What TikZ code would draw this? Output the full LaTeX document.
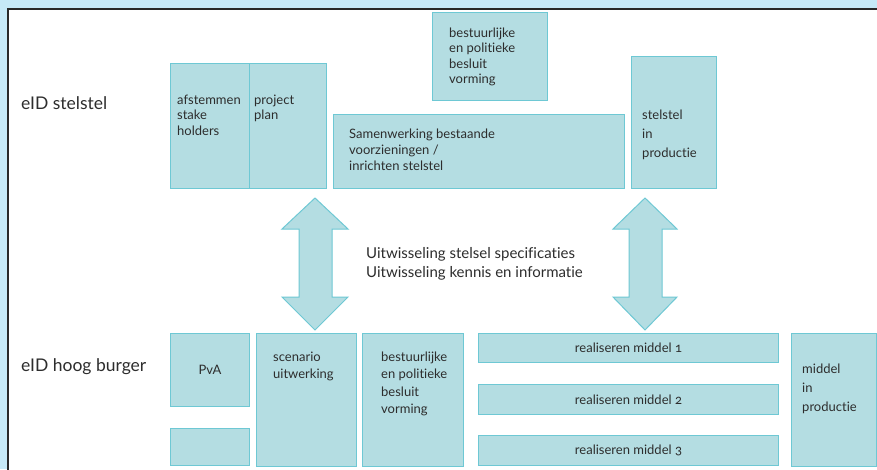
\documentclass[tikz,border=0pt]{standalone}
\usepackage{fontspec}
\setmainfont{Lato}[Numbers=OldStyle, Ligatures=NoCommon]
\definecolor{bgblue}{RGB}{198,233,247}
\definecolor{boxfill}{RGB}{180,221,226}
\definecolor{boxline}{RGB}{110,200,212}
\definecolor{ink}{RGB}{45,45,45}
\definecolor{framecol}{RGB}{40,40,40}
\newcommand{\mlines}[1]{\begin{tabular}[t]{@{}l@{}}#1\end{tabular}}
\begin{document}
\begin{tikzpicture}[x=1pt,y=-1pt,
  box/.style={draw=boxline, fill=boxfill, line width=1pt, inner sep=0pt, anchor=north west},
  txt/.style={text=ink, inner sep=0pt, anchor=base west, font=\fontsize{13}{15.5}\selectfont},
  ctxt/.style={text=ink, inner sep=0pt, font=\fontsize{13}{15.5}\selectfont},
  lbl/.style={text=ink, inner sep=0pt, anchor=base west, font=\fontsize{17.5}{20}\selectfont},
  mid/.style={text=ink, inner sep=0pt, anchor=base west, font=\fontsize{15}{19}\selectfont},
  bigarrow/.style={draw=boxline, fill=boxfill, line width=1pt, line join=miter}]
\useasboundingbox (0,0) rectangle (877,469);
\fill[bgblue] (0,0) rectangle (877,469);
\fill[white] (8,9) rectangle (880,472);
\draw[framecol, line width=2.2pt] (8,475) -- (8,9) -- (880,9);

% top row
\node[box, minimum width=79, minimum height=125] (afst) at (170,63) {};
\node[box, minimum width=77, minimum height=125] (proj) at (249,63) {};
\node[box, minimum width=291, minimum height=74] (samen) at (333,114) {};
\node[box, minimum width=115, minimum height=88] (bestA) at (432,12) {};
\node[box, minimum width=85, minimum height=132] (stelprod) at (631,56) {};

\node[txt] (tafst) at (177,104) {\mlines{afstemmen\\stake\\holders}};
\node[txt] (tproj) at (254,104) {\mlines{project\\plan}};
\node[txt, font=\fontsize{13}{16}\selectfont] (tsamen) at (349,138) {\mlines{Samenwerking bestaande\\voorzieningen /\\inrichten stelstel}};
\node[txt] (tbestA) at (449,37) {\mlines{bestuurlijke\\en politieke\\besluit\\vorming}};
\node[txt, font=\fontsize{13}{19}\selectfont] (tstelprod) at (642,119) {\mlines{stelstel\\in\\productie}};

% bottom row
\node[box, minimum width=79, minimum height=73] (pva) at (170,333) {};
\node[box, minimum width=79, minimum height=37] (empty) at (170,428) {};
\node[box, minimum width=100, minimum height=133] (scen) at (256,333) {};
\node[box, minimum width=101, minimum height=133] (bestB) at (362,333) {};
\node[box, minimum width=300, minimum height=29] (real1) at (478,333) {};
\node[box, minimum width=300, minimum height=30] (real2) at (478,384) {};
\node[box, minimum width=300, minimum height=30] (real3) at (478,435) {};
\node[box, minimum width=85, minimum height=133] (midprod) at (791,333) {};

\node[ctxt] (tpva) at (pva.center) {PvA};
\node[txt, font=\fontsize{13}{17.3}\selectfont] (tscen) at (273,361) {\mlines{scenario\\uitwerking}};
\node[txt, font=\fontsize{13}{17.6}\selectfont] (tbestB) at (381,361) {\mlines{bestuurlijke\\en politieke\\besluit\\vorming}};
\node[ctxt] (treal1) at (real1.center) {realiseren middel 1};
\node[ctxt] (treal2) at (real2.center) {realiseren middel 2};
\node[ctxt] (treal3) at (real3.center) {realiseren middel 3};
\node[txt, font=\fontsize{13}{19}\selectfont] (tmidprod) at (802,373) {\mlines{middel\\in\\productie}};

% labels
\node[lbl] (lstelsel) at (21,109) {eID stelstel};
\node[lbl] (lburger) at (21,371) {eID hoog burger};
\node[mid] (lmid) at (366,258) {\mlines{Uitwisseling stelsel specificaties\\Uitwisseling kennis en informatie}};

% double arrows
\draw[bigarrow] (315,198) -- (348,229) -- (332,229) -- (332,297) -- (348,297) -- (315,330)
  -- (282,297) -- (299,297) -- (299,229) -- (282,229) -- cycle;
\draw[bigarrow] (645,198) -- (677,229) -- (662,229) -- (662,297) -- (677,297) -- (645,330)
  -- (613,297) -- (629,297) -- (629,229) -- (613,229) -- cycle;
\end{tikzpicture}
\end{document}
